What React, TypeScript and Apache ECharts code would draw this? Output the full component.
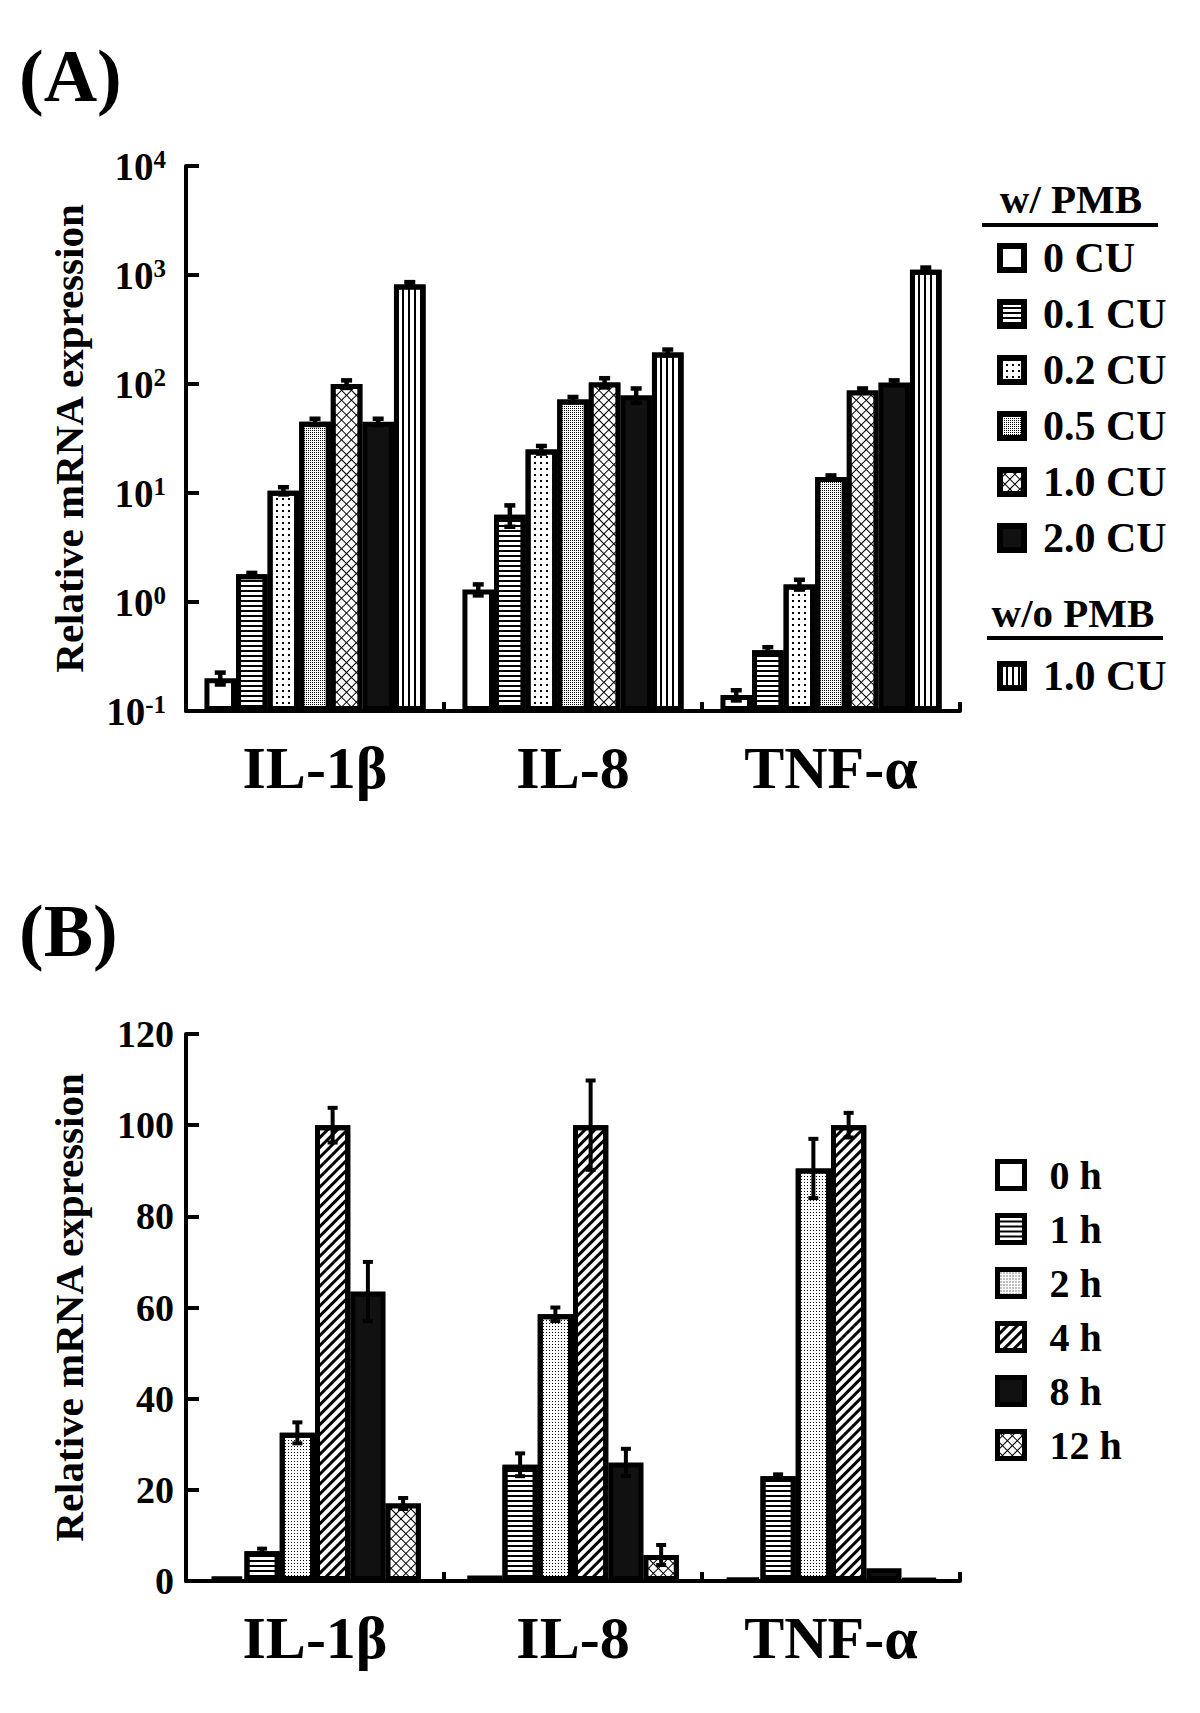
import React, { useEffect, useRef } from 'react';
import * as echarts from 'echarts';

const F = '"Liberation Serif", "Times New Roman", Times, serif';

// ---------- data ----------
const categories = ['IL-1β', 'IL-8', 'TNF-α'];

// Panel A (log scale), with / without PMB
const aNames = ['0 CU', '0.1 CU', '0.2 CU', '0.5 CU', '1.0 CU', '2.0 CU', 'w/o PMB 1.0 CU'];
const aCU0 = [0.2, 1.3, 0.14];
const aCU01 = [1.8, 6.3, 0.36];
const aCU02 = [10.5, 25, 1.45];
const aCU05 = [45, 72, 14];
const aCU10 = [100, 103, 87];
const aCU20 = [45, 79, 103];
const aNoPMB10 = [820, 195, 1120];
const aErrCU0 = [0.025, 0.15, 0.015];
const aErrCU01 = [0.05, 1.4, 0.025];
const aErrCU02 = [0.8, 2, 0.15];
const aErrCU05 = [3, 4, 0.5];
const aErrCU10 = [8, 10, 4];
const aErrCU20 = [3, 12, 5];
const aErrNoPMB10 = [40, 12, 50];

// Panel B (linear scale), time course
const bNames = ['0 h', '1 h', '2 h', '4 h', '8 h', '12 h'];
const b0h = [1.0, 1.2, 0.6];
const b1h = [6.5, 25.5, 23];
const b2h = [32.5, 58.5, 90.5];
const b4h = [100, 100, 100];
const b8h = [63.5, 26, 2.8];
const b12h = [17, 5.7, 0.3];
const bErr0h = [0, 0, 0];
const bErr1h = [0.6, 2.5, 0.4];
const bErr2h = [2.3, 1.5, 6.5];
const bErr4h = [3.8, 9.8, 2.7];
const bErr8h = [6.5, 3, 0];
const bErr12h = [1.2, 2.2, 0];

const yTicksB = { min: 0, max: 120, interval: 20 };

// ---------- styles ----------
const decals: Record<string, any> = {
  hStripe: { symbol: 'rect', symbolSize: 1, color: '#000', dashArrayX: [1, 0], dashArrayY: [2, 3] },
  vStripe: { symbol: 'rect', symbolSize: 1, color: '#000', dashArrayX: [2, 4], dashArrayY: [1, 0] },
  sparseDots: { symbol: 'rect', symbolSize: 1, color: '#000', dashArrayX: [2, 4], dashArrayY: [2, 4] },
  denseDots: { symbol: 'rect', symbolSize: 1, color: '#000', dashArrayX: [1, 1], dashArrayY: [1, 1] },
  lightDots: { symbol: 'rect', symbolSize: 1, color: '#000', dashArrayX: [1, 2], dashArrayY: [1, 2] },
  cross: { symbol: 'rect', symbolSize: 1, color: '#fff', dashArrayX: [6, 1], dashArrayY: [6, 1], rotation: Math.PI / 4 },
  diag: { symbol: 'rect', symbolSize: 1, color: '#000', dashArrayX: [1, 0], dashArrayY: [3, 4], rotation: -Math.PI / 4 },
};
const aKinds = ['white', 'hStripe', 'sparseDots', 'denseDots', 'cross', 'solid', 'vStripe'];
const bKinds = ['white', 'hStripe', 'lightDots', 'diag', 'solid', 'cross'];

const GAP_A = 0.143;
const GAP_B = 0.18;

function itemStyleFor(kind: string, bw: number) {
  const dark = kind === 'solid' || kind === 'cross';
  const s: any = { color: kind === 'solid' ? '#111' : dark ? '#000' : '#fff', borderColor: '#000', borderWidth: bw };
  if (decals[kind]) s.decal = decals[kind];
  return s;
}

function errRenderer(n: number, gap: number, capW: number, lw: number) {
  return (params: any, api: any) => {
    const cat = api.value(0);
    const s = api.value(1);
    const v = api.value(2);
    const e = api.value(3);
    if (!e) return null;
    const p = api.coord([cat, v]);
    const bandW = api.coord([1, v])[0] - api.coord([0, v])[0];
    const total = bandW * (1 - gap);
    const bw = total / n;
    const x = p[0] - total / 2 + (s + 0.5) * bw;
    const yTop = api.coord([cat, v + e])[1];
    const yBot = api.coord([cat, Math.max(v - e, 1e-6)])[1];
    const st = { stroke: '#000', lineWidth: lw };
    return {
      type: 'group',
      children: [
        { type: 'line', shape: { x1: x, y1: yTop, x2: x, y2: yBot }, style: st },
        { type: 'line', shape: { x1: x - capW / 2, y1: yTop, x2: x + capW / 2, y2: yTop }, style: st },
        { type: 'line', shape: { x1: x - capW / 2, y1: yBot, x2: x + capW / 2, y2: yBot }, style: st },
      ],
    };
  };
}

function buildOption() {
  const aVals = [aCU0, aCU01, aCU02, aCU05, aCU10, aCU20, aNoPMB10];
  const aErrs = [aErrCU0, aErrCU01, aErrCU02, aErrCU05, aErrCU10, aErrCU20, aErrNoPMB10];
  const bVals = [b0h, b1h, b2h, b4h, b8h, b12h];
  const bErrs = [bErr0h, bErr1h, bErr2h, bErr4h, bErr8h, bErr12h];

  const series: any[] = [];
  aNames.forEach((name, i) => {
    series.push({
      type: 'bar', name, xAxisIndex: 0, yAxisIndex: 0, data: aVals[i],
      barGap: '0%', barCategoryGap: (GAP_A * 100).toFixed(1) + '%',
      itemStyle: itemStyleFor(aKinds[i], 5), silent: true,
    });
  });
  bNames.forEach((name, i) => {
    series.push({
      type: 'bar', name, xAxisIndex: 1, yAxisIndex: 1, data: bVals[i],
      barGap: '0%', barCategoryGap: (GAP_B * 100).toFixed(0) + '%',
      itemStyle: itemStyleFor(bKinds[i], 5), silent: true,
    });
  });
  const aErrData: any[] = [];
  aVals.forEach((vals, s) => vals.forEach((v, c) => aErrData.push([c, s, v, aErrs[s][c]])));
  const bErrData: any[] = [];
  bVals.forEach((vals, s) => vals.forEach((v, c) => bErrData.push([c, s, v, bErrs[s][c]])));
  series.push({
    type: 'custom', name: 'errA', xAxisIndex: 0, yAxisIndex: 0, z: 10, silent: true,
    renderItem: errRenderer(aNames.length, GAP_A, 11, 4.5), encode: { x: 0, y: 2 }, data: aErrData,
  });
  series.push({
    type: 'custom', name: 'errB', xAxisIndex: 1, yAxisIndex: 1, z: 10, silent: true,
    renderItem: errRenderer(bNames.length, GAP_B, 10, 4), encode: { x: 0, y: 2 }, data: bErrData,
  });

  const axisLine = { show: true, lineStyle: { color: '#000', width: 4 } };
  const mkX = (gi: number, margin: number) => ({
    type: 'category', gridIndex: gi, data: categories,
    axisLine,
    axisTick: { show: true, inside: true, length: 9, lineStyle: { color: '#000', width: 4 } },
    axisLabel: { interval: 0, margin, fontSize: 60, fontWeight: 'bold', fontFamily: F, color: '#000' },
  });
  const yName = {
    name: 'Relative mRNA expression', nameLocation: 'middle', nameGap: 97,
    nameTextStyle: { fontSize: 41, fontWeight: 'bold', fontFamily: F, color: '#000' },
  };
  const yTick = { show: true, inside: true, length: 13, lineStyle: { color: '#000', width: 4 } };

  const legendText = { fontSize: 42, fontWeight: 'bold', fontFamily: F, color: '#000' };

  return {
    animation: false,
    backgroundColor: '#fff',
    grid: [
      { left: 186, top: 166, width: 774, height: 545 },
      { left: 186, top: 1034, width: 774, height: 547 },
    ],
    xAxis: [mkX(0, 27), mkX(1, 27)],
    yAxis: [
      {
        type: 'log', gridIndex: 0, logBase: 10, min: 0.1, max: 10000, startValue: 0.1,
        axisLine, axisTick: yTick, splitLine: { show: false }, minorTick: { show: false },
        axisLabel: {
          margin: 20,
          formatter: (v: number) => `{b|10}{s|${Math.round(Math.log10(v))}}`,
          rich: {
            b: { fontSize: 39, fontWeight: 'bold', fontFamily: F, color: '#000' },
            s: { fontSize: 25, fontWeight: 'bold', fontFamily: F, color: '#000', verticalAlign: 'top' },
          },
        },
        ...yName,
      },
      {
        type: 'value', gridIndex: 1, min: yTicksB.min, max: yTicksB.max, interval: yTicksB.interval,
        axisLine, axisTick: yTick, splitLine: { show: false },
        axisLabel: { margin: 12, fontSize: 38, fontWeight: 'bold', fontFamily: F, color: '#000' },
        ...yName,
      },
    ],
    legend: [
      {
        data: aNames.slice(0, 6), orient: 'vertical', left: 997, top: 237, icon: 'rect', padding: 0,
        itemWidth: 24, itemHeight: 24, itemGap: 14, selectedMode: false,
        itemStyle: { borderColor: '#000', borderWidth: 6 },
        textStyle: { ...legendText, padding: [0, 0, 0, 14] },
      },
      {
        data: [aNames[6]], orient: 'vertical', left: 997, top: 655, icon: 'rect', padding: 0,
        itemWidth: 24, itemHeight: 24, selectedMode: false,
        itemStyle: { borderColor: '#000', borderWidth: 6 },
        formatter: (n: string) => n.replace('w/o PMB ', ''),
        textStyle: { ...legendText, padding: [0, 0, 0, 14] },
      },
      {
        data: bNames, orient: 'vertical', left: 995, top: 1155, icon: 'rect', padding: 0,
        itemWidth: 27, itemHeight: 27, itemGap: 14, selectedMode: false,
        itemStyle: { borderColor: '#000', borderWidth: 5 },
        textStyle: { ...legendText, fontSize: 40, padding: [0, 0, 0, 20] },
      },
    ],
    graphic: [
      { type: 'text', x: 19, y: 76, style: { text: '(A)', font: `bold 74px ${F}`, fill: '#000', align: 'left', verticalAlign: 'middle', textAlign: 'left', textVerticalAlign: 'middle' } },
      { type: 'text', x: 19, y: 931, style: { text: '(B)', font: `bold 74px ${F}`, fill: '#000', align: 'left', verticalAlign: 'middle', textAlign: 'left', textVerticalAlign: 'middle' } },
      { type: 'text', x: 1071, y: 199, style: { text: 'w/ PMB', font: `bold 41px ${F}`, fill: '#000', align: 'center', verticalAlign: 'middle', textAlign: 'center', textVerticalAlign: 'middle' } },
      { type: 'line', shape: { x1: 982, y1: 225, x2: 1158, y2: 225 }, style: { stroke: '#000', lineWidth: 4 } },
      { type: 'text', x: 1073, y: 613, style: { text: 'w/o PMB', font: `bold 41px ${F}`, fill: '#000', align: 'center', verticalAlign: 'middle', textAlign: 'center', textVerticalAlign: 'middle' } },
      { type: 'line', shape: { x1: 987, y1: 638, x2: 1163, y2: 638 }, style: { stroke: '#000', lineWidth: 4 } },
    ],
    series,
  };
}

export default function App() {
  const ref = useRef<HTMLDivElement>(null);
  useEffect(() => {
    if (!ref.current) return;
    const chart = echarts.init(ref.current, undefined, { renderer: 'svg' });
    chart.setOption(buildOption() as any);
    return () => chart.dispose();
  }, []);
  return (
    <div
      ref={ref}
      style={{ position: 'absolute', left: 0, top: 0, width: 1200, height: 1713, background: '#fff' }}
    />
  );
}
